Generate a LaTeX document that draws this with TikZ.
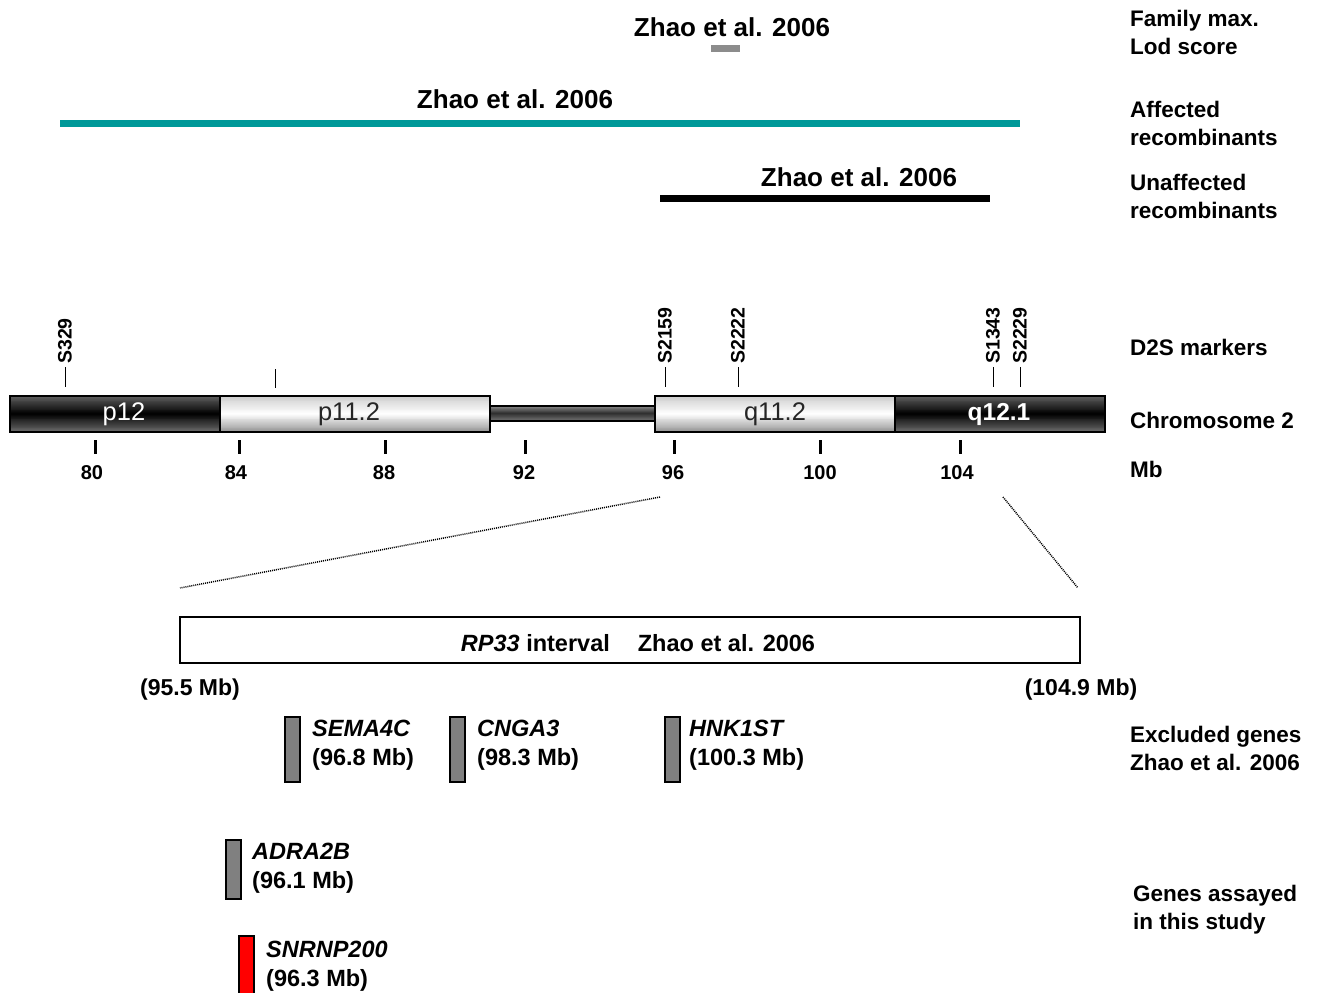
\documentclass[tikz,border=0pt]{standalone}
\usepackage{fontspec}
\setmainfont{Liberation Sans}
\definecolor{teal1}{HTML}{009999}
\definecolor{lodgrey}{HTML}{8C8C8C}
\definecolor{genegrey}{HTML}{808080}
\definecolor{snred}{HTML}{FF0000}
% vertical three-stop grey gradient built from thin strips
\newcommand\gradrect[7]{%
  \foreach \gI in {0,...,39}{
    \pgfmathsetmacro\gT{(\gI+0.5)/40}
    \pgfmathsetmacro\gV{\gT<0.5 ? #5+(#6-#5)*\gT*2 : #6+(#7-#6)*(\gT-0.5)*2}
    \pgfmathsetmacro\gA{#2+(#4-#2)*\gI/40}
    \pgfmathsetmacro\gB{#2+(#4-#2)*(\gI+1)/40+0.4}
    \fill[black!\gV] (#1,\gA) rectangle (#3,\gB);
  }}
\begin{document}
\begin{tikzpicture}[x=1pt,y=-1pt,
  ref/.style={font=\bfseries\fontsize{26}{30}\selectfont, inner sep=0},
  side/.style={font=\bfseries\fontsize{22.5}{28}\selectfont, align=left, anchor=west, inner sep=0},
  mk/.style={font=\bfseries\fontsize{19.5}{19.5}\selectfont, rotate=90, anchor=west, inner sep=0},
  mb/.style={font=\bfseries\fontsize{20}{20}\selectfont, inner sep=0},
  gene/.style={font=\bfseries\fontsize{23.5}{28.5}\selectfont, align=left, anchor=west, inner sep=0},
  band/.style={draw=black, line width=1.3pt, minimum height=36pt, inner sep=0, font=\fontsize{25.5}{25.5}\selectfont},
  darkband/.style={band, text=white},
  lightband/.style={band, text=black!85},
  bandtext/.style={inner sep=0, font=\fontsize{25.5}{25.5}\selectfont},
  genebar/.style={draw=black, line width=1.2pt, fill=genegrey, minimum width=15pt, inner sep=0},
  tickup/.style={line width=1pt},
  tickdown/.style={line width=3pt},
  zoomline/.style={line width=1.5pt, dash pattern=on 1pt off 1pt}
]
\useasboundingbox (0,0) rectangle (1320,993);

% ---- top evidence bars ----
\node[ref] (z1) at (732,27) {Zhao et al. 2006};
\fill[lodgrey] (711,45) rectangle (740,52);
\node[ref] (z2) at (515,99) {Zhao et al. 2006};
\fill[teal1] (60,120) rectangle (1020,127);
\node[ref] (z3) at (859,177) {Zhao et al. 2006};
\fill[black] (660,195) rectangle (990,202);

% ---- right-hand labels ----
\node[side] (lFam) at (1130,32) {Family max.\\Lod score};
\node[side] (lAff) at (1130,123) {Affected\\recombinants};
\node[side] (lUnaff) at (1130,196) {Unaffected\\recombinants};
\node[side] (lD2S) at (1130,347) {D2S markers};
\node[side] (lChr) at (1130,420) {Chromosome 2};
\node[side] (lMb) at (1130,469) {Mb};
\node[side] (lExc) at (1130,748) {Excluded genes\\Zhao et al. 2006};
\node[side] (lAss) at (1133,910) {Genes assayed\\in this study};

% ---- chromosome ----
\gradrect{490}{406}{655}{421}{45}{82}{55}
\draw[line width=1.3pt] (490,406) rectangle (655,421);
\gradrect{10}{396}{220}{432}{62}{100}{58}
\gradrect{220}{396}{490}{432}{20}{0}{42}
\gradrect{655}{396}{895}{432}{20}{0}{42}
\gradrect{895}{396}{1105}{432}{62}{100}{58}
\node[darkband, minimum width=210pt] (p12) at (115,414) {};
\node[lightband, minimum width=270pt] (p112) at (355,414) {};
\node[lightband, minimum width=240pt] (q112) at (775,414) {};
\node[darkband, minimum width=210pt] (q121) at (1000,414) {};
\node[bandtext, text=white] (tp12) at (124,414) {p12};
\node[bandtext, text=black!85] (tp112) at (349,414) {p11.2};
\node[bandtext, text=black!85] (tq112) at (775,414) {q11.2};
\node[bandtext, text=white, font=\bfseries\fontsize{24.5}{24.5}\selectfont] (tq121) at (999,414) {q12.1};

% ---- markers ----
\foreach \x/\n in {65/S329, 665/S2159, 738/S2222, 993/S1343, 1020/S2229}{
  \draw[tickup] (\x,367) -- (\x,387);
  \node[mk] (m\n) at (\x,364) {\n};
}
\draw[tickup] (275,369) -- (275,388);

% ---- Mb scale ----
\foreach \x/\lab/\t in {95/80/92, 239/84/236, 385/88/384, 525/92/524, 674/96/673, 820/100/820, 960/104/957}{
  \draw[tickdown] (\x,440) -- (\x,454);
  \node[mb] (mb\lab) at (\t,473) {\lab};
}

% ---- zoom lines ----
\coordinate (zl1) at (660,497);
\coordinate (zl2) at (180,588);
\coordinate (zr1) at (1003,497);
\coordinate (zr2) at (1078,588);
\draw[zoomline] (zl1) -- (zl2);
\draw[zoomline] (zr1) -- (zr2);

% ---- RP33 interval ----
\node[draw=black, line width=1.3pt, minimum width=900pt, minimum height=46pt, inner sep=0] (rp) at (630,640) {};
\node[inner sep=0, font=\bfseries\fontsize{23.5}{23.5}\selectfont] (rpt) at (638,643)
      {\textit{RP33} interval\hspace{28pt}Zhao et al. 2006};
\node[mb, font=\bfseries\fontsize{23}{23}\selectfont] (rpL) at (190,690) {(95.5 Mb)};
\node[mb, font=\bfseries\fontsize{23}{23}\selectfont] (rpR) at (1081,690) {(104.9 Mb)};

% ---- excluded genes ----
\node[genebar, minimum height=65pt] (bSEMA) at (292.5,749.5) {};
\node[gene] (tSEMA) at (312,745) {\textit{SEMA4C}\\(96.8 Mb)};
\node[genebar, minimum height=65pt] (bCNGA) at (457.5,749.5) {};
\node[gene] (tCNGA) at (477,745) {\textit{CNGA3}\\(98.3 Mb)};
\node[genebar, minimum height=65pt] (bHNK) at (672.5,749.5) {};
\node[gene] (tHNK) at (689,745) {\textit{HNK1ST}\\(100.3 Mb)};

% ---- assayed genes ----
\node[genebar, minimum height=59pt] (bADRA) at (233.5,869.5) {};
\node[gene] (tADRA) at (252,868) {\textit{ADRA2B}\\(96.1 Mb)};
\node[genebar, fill=snred, minimum height=60pt] (bSNR) at (246.5,966) {};
\node[gene] (tSNR) at (266,966) {\textit{SNRNP200}\\(96.3 Mb)};
\end{tikzpicture}
\end{document}
